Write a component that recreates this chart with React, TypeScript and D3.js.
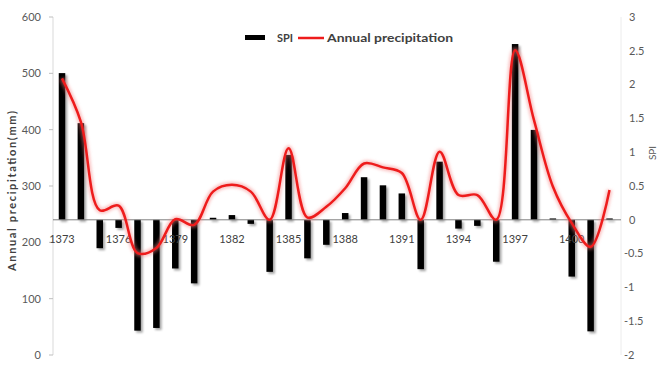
import React from "react";
import * as d3 from "d3";

// Hydrological years (Solar Hijri)
const years: number[] = d3.range(1373, 1403);

// Standardized Precipitation Index per year
const spi: number[] = [
  2.17, 1.43, -0.42, -0.12, -1.64, -1.6, -0.72, -0.94, 0.03, 0.07,
  -0.06, -0.77, 0.96, -0.57, -0.37, 0.1, 0.63, 0.51, 0.39, -0.73,
  0.86, -0.13, -0.09, -0.62, 2.6, 1.33, 0.02, -0.84, -1.65, 0.02,
];

// Annual precipitation (mm)
const precipitation: number[] = [
  491, 414, 257, 265, 181, 190, 241, 231, 290, 302,
  290, 240, 367, 244, 263, 296, 340, 333, 323, 240,
  361, 284, 284, 240, 541, 417, 299, 234, 192, 293,
];

const xTickYears: number[] = [1373, 1376, 1379, 1382, 1385, 1388, 1391, 1394, 1397, 1400];
const leftTicks: number[] = [0, 100, 200, 300, 400, 500, 600];
const rightTicks: number[] = [-2, -1.5, -1, -0.5, 0, 0.5, 1, 1.5, 2, 2.5, 3];

const W = 660;
const H = 367;
const TOP = 17;
const BOTTOM = 355;
const LEFT_AXIS_X = 53;
const RIGHT_AXIS_X = 621;

const FONT = "Lato, 'Open Sans', sans-serif";

export default function App() {
  const x = d3.scalePoint<number>().domain(years).range([62, 609.5]);
  const yP = d3.scaleLinear().domain([0, 600]).range([BOTTOM, TOP]);
  const yS = d3.scaleLinear().domain([-2, 3]).range([BOTTOM, TOP]);
  const barW = 6.5;

  const line = d3
    .line<number>()
    .x((_, i) => x(years[i]) as number)
    .y((d) => yP(d))
    .curve(d3.curveCatmullRom.alpha(0.5));
  const path = line(precipitation) || "";

  return (
    <svg
      width={W}
      height={H}
      style={{ position: "absolute", left: 0, top: 0, background: "#fff" }}
    >
      <defs>
        <filter id="barShadow" x="-50%" y="-10%" width="220%" height="130%">
          <feDropShadow dx="2" dy="2" stdDeviation="1.2" floodColor="#000" floodOpacity="0.35" />
        </filter>
        <filter id="glow" x="-5%" y="-10%" width="110%" height="120%">
          <feGaussianBlur stdDeviation="1.5" />
        </filter>
      </defs>

      {/* left axis */}
      <line x1={LEFT_AXIS_X} x2={LEFT_AXIS_X} y1={TOP} y2={BOTTOM} stroke="#d9d9d9" strokeWidth={1} />
      {leftTicks.map((t) => (
        <g key={"l" + t}>
          <line x1={LEFT_AXIS_X - 4} x2={LEFT_AXIS_X} y1={yP(t)} y2={yP(t)} stroke="#bfbfbf" />
          <text
            x={41}
            y={yP(t)}
            dy="0.35em"
            textAnchor="end"
            fontFamily={FONT}
            fontSize={11}
            fill="#595959"
          >
            {t}
          </text>
        </g>
      ))}

      {/* right axis */}
      <line x1={RIGHT_AXIS_X} x2={RIGHT_AXIS_X} y1={TOP} y2={BOTTOM} stroke="#ececec" strokeWidth={1} />
      {rightTicks.map((t) => (
        <text
          key={"r" + t}
          x={t < 0 ? 624 : 629}
          y={yS(t)}
          dy="0.35em"
          textAnchor="start"
          fontFamily={FONT}
          fontSize={11}
          fill="#595959"
        >
          {t}
        </text>
      ))}

      {/* axis titles */}
      <text
        transform={`translate(12,191) rotate(-90)`}
        textAnchor="middle"
        dy="0.35em"
        fontFamily={FONT}
        fontSize={11}
        fontWeight={700}
        fill="#404040"
        textLength={160}
        lengthAdjust="spacing"
      >
        Annual precipitation(mm)
      </text>
      <text
        transform={`translate(652,153) rotate(-90)`}
        textAnchor="middle"
        dy="0.35em"
        fontFamily={FONT}
        fontSize={10}
        fill="#595959"
      >
        SPI
      </text>

      {/* SPI bars */}
      <g filter="url(#barShadow)">
        {spi.map((v, i) => {
          const y0 = yS(0);
          const y1 = yS(v);
          return (
            <rect
              key={"b" + years[i]}
              x={(x(years[i]) as number) - barW / 2}
              y={Math.min(y0, y1)}
              width={barW}
              height={Math.max(Math.abs(y1 - y0), 1.5)}
              fill="#000"
            />
          );
        })}
      </g>

      {/* horizontal zero line */}
      <line x1={LEFT_AXIS_X} x2={RIGHT_AXIS_X} y1={yS(0)} y2={yS(0)} stroke="#7f7f7f" strokeWidth={1} />

      {/* x tick labels */}
      {xTickYears.map((yr) => (
        <text
          key={"x" + yr}
          x={x(yr) as number}
          y={239}
          dy="0.35em"
          textAnchor="middle"
          fontFamily={FONT}
          fontSize={11}
          fill="#404040"
        >
          {yr}
        </text>
      ))}

      {/* precipitation line */}
      <path d={path} fill="none" stroke="#f47c7c" strokeWidth={6} strokeOpacity={0.45} filter="url(#glow)" />
      <path d={path} fill="none" stroke="#ee1c1c" strokeWidth={2.5} strokeLinejoin="round" />

      {/* legend */}
      <g>
        <rect x={245} y={35} width={20} height={5} fill="#000" />
        <text x={277} y={38} dy="0.35em" fontFamily={FONT} fontSize={12} fontWeight={700} fill="#404040"
          textLength={16} lengthAdjust="spacingAndGlyphs">
          SPI
        </text>
        <line x1={298} x2={324} y1={38} y2={38} stroke="#ee1c1c" strokeWidth={2.5} />
        <text x={327} y={38} dy="0.35em" fontFamily={FONT} fontSize={12} fontWeight={700} fill="#404040"
          textLength={126} lengthAdjust="spacingAndGlyphs">
          Annual precipitation
        </text>
      </g>
    </svg>
  );
}
